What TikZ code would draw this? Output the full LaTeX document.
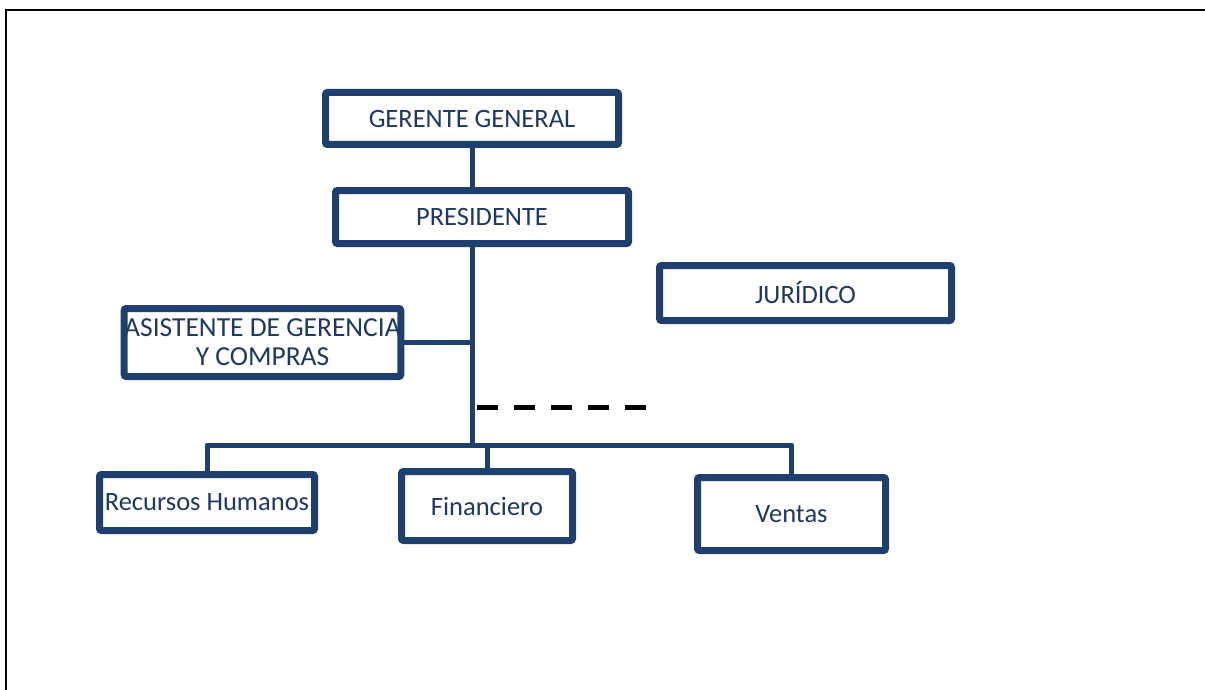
\documentclass[tikz,border=0pt]{standalone}
\usepackage{fontspec}
\setmainfont{Carlito}
\usetikzlibrary{shadows}
\definecolor{boxblue}{RGB}{31,63,110}
\definecolor{txtblue}{RGB}{31,56,100}
\tikzset{
  orgbox/.style={draw=boxblue, line width=7pt, rounded corners=2pt, fill=white,
    inner sep=0pt, text=txtblue, align=center, font=\fontsize{26.5}{28}\selectfont,
    drop shadow={opacity=0.25, shadow xshift=2pt, shadow yshift=-3pt}},
  link/.style={draw=boxblue, line width=5pt, line join=round},
  dashlink/.style={draw=black, line width=5pt, dash pattern=on 21pt off 16pt},
  frame/.style={draw=black, line width=1.6pt}
}
\begin{document}
\begin{tikzpicture}[x=1pt, y=-1pt]
\useasboundingbox (0,0) rectangle (1205,690);
\coordinate (fbl) at (6,692);
\coordinate (ftl) at (6,10);
\coordinate (ftr) at (1207,10);
\draw[frame] (fbl) -- (ftl) -- (ftr);

\node[orgbox, minimum width=293pt, minimum height=52pt] (gg) at (472,118.5) {GERENTE GENERAL};
\node[orgbox, minimum width=293pt, minimum height=53pt] (pres) at (482,217) {PRESIDENTE};
\node[orgbox, minimum width=292pt, minimum height=55pt] (jur) at (805.5,293) {JURÍDICO};
\node[orgbox, minimum width=276pt, minimum height=68pt, font=\fontsize{27.5}{29}\selectfont] (asis) at (262.5,342.5) {ASISTENTE DE GERENCIA\\Y COMPRAS};
\node[orgbox, minimum width=215pt, minimum height=56pt] (rh) at (207,502.5) {Recursos Humanos};
\node[orgbox, minimum width=171pt, minimum height=69pt] (fin) at (487,506) {Financiero};
\node[orgbox, minimum width=188pt, minimum height=73pt] (ven) at (791.5,514) {Ventas};

\coordinate (bar) at (472,445);
\coordinate (d1) at (477,407);
\coordinate (d2) at (650,407);

\draw[link] (gg.south) -- (gg.south |- pres.north);
\draw[link] (pres.south -| bar) -- (bar);
\draw[link] (asis.east) -- (asis.east -| bar);
\draw[link] (rh.north) |- (bar) -| (ven.north);
\draw[link] (fin.north) -- (fin.north |- bar);
\draw[dashlink] (d1) -- (d2);
\end{tikzpicture}
\end{document}
